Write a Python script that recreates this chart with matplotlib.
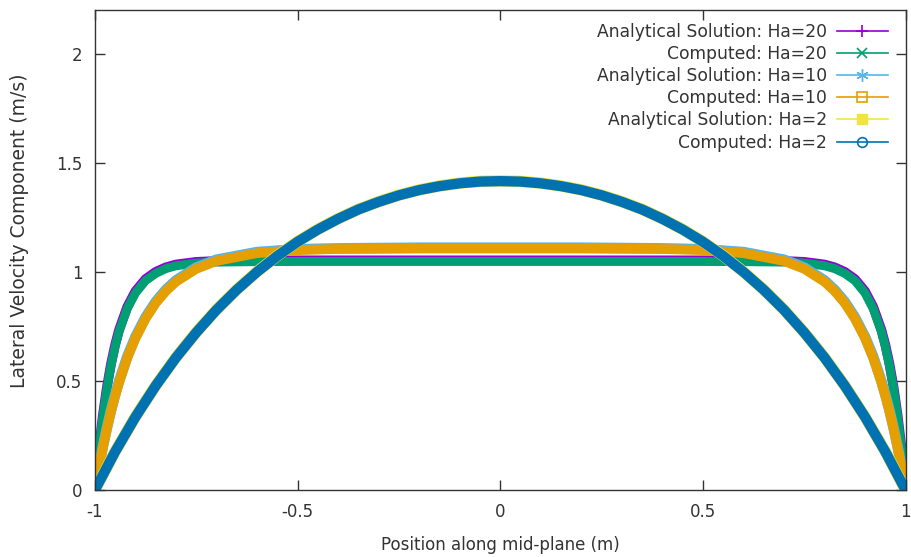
import matplotlib
matplotlib.use("Agg")
import matplotlib.pyplot as plt
from matplotlib.lines import Line2D

# Hartmann flow velocity profiles across the channel mid-plane
x_wall = [-1, -0.995, -0.99, -0.98, -0.97, -0.96, -0.95, -0.94, -0.92, -0.9, -0.875,
          -0.85, -0.825, -0.8, -0.75, -0.7, -0.6, -0.5, -0.4, -0.2, 0,
          0.2, 0.4, 0.5, 0.6, 0.7, 0.75, 0.8, 0.825, 0.85, 0.875,
          0.9, 0.92, 0.94, 0.95, 0.96, 0.97, 0.98, 0.99, 0.995, 1]

analytic_ha20 = [0, 0.100, 0.191, 0.347, 0.475, 0.580, 0.666, 0.736, 0.840, 0.911, 0.967,
                 1.000, 1.021, 1.034, 1.046, 1.050, 1.052, 1.053, 1.053, 1.053, 1.053,
                 1.053, 1.053, 1.053, 1.052, 1.050, 1.046, 1.034, 1.021, 1.000, 0.967,
                 0.911, 0.840, 0.736, 0.666, 0.580, 0.475, 0.347, 0.191, 0.100, 0]
computed_ha20 = [0, 0.095, 0.185, 0.340, 0.468, 0.572, 0.658, 0.728, 0.832, 0.903, 0.960,
                 0.993, 1.015, 1.028, 1.040, 1.045, 1.047, 1.048, 1.048, 1.048, 1.048,
                 1.048, 1.048, 1.048, 1.047, 1.045, 1.040, 1.028, 1.015, 0.993, 0.960,
                 0.903, 0.832, 0.728, 0.658, 0.572, 0.468, 0.340, 0.185, 0.095, 0]

analytic_ha10 = [0, 0.054, 0.106, 0.201, 0.288, 0.367, 0.437, 0.501, 0.612, 0.702, 0.792,
                 0.863, 0.918, 0.961, 1.020, 1.056, 1.091, 1.104, 1.108, 1.111, 1.111,
                 1.111, 1.108, 1.104, 1.091, 1.056, 1.020, 0.961, 0.918, 0.863, 0.792,
                 0.702, 0.612, 0.501, 0.437, 0.367, 0.288, 0.201, 0.106, 0.054, 0]
computed_ha10 = [0, 0.052, 0.103, 0.197, 0.283, 0.361, 0.431, 0.495, 0.606, 0.696, 0.786,
                 0.857, 0.912, 0.955, 1.014, 1.050, 1.086, 1.100, 1.105, 1.107, 1.107,
                 1.107, 1.105, 1.100, 1.086, 1.050, 1.014, 0.955, 0.912, 0.857, 0.786,
                 0.696, 0.606, 0.495, 0.431, 0.361, 0.283, 0.197, 0.103, 0.052, 0]

x_ha2 = [-1, -0.95, -0.9, -0.85, -0.8, -0.75, -0.7, -0.65, -0.6, -0.55, -0.5,
         -0.45, -0.4, -0.35, -0.3, -0.25, -0.2, -0.15, -0.1, -0.05, 0,
         0.05, 0.1, 0.15, 0.2, 0.25, 0.3, 0.35, 0.4, 0.45, 0.5,
         0.55, 0.6, 0.65, 0.7, 0.75, 0.8, 0.85, 0.9, 0.95, 1]
analytic_ha2 = [0, 0.177, 0.336, 0.479, 0.608, 0.723, 0.827, 0.919, 1.001, 1.074, 1.139,
                1.195, 1.244, 1.287, 1.322, 1.352, 1.376, 1.394, 1.407, 1.415, 1.417,
                1.415, 1.407, 1.394, 1.376, 1.352, 1.322, 1.287, 1.244, 1.195, 1.139,
                1.074, 1.001, 0.919, 0.827, 0.723, 0.608, 0.479, 0.336, 0.177, 0]
computed_ha2 = [0, 0.176, 0.335, 0.478, 0.607, 0.722, 0.826, 0.918, 1.000, 1.073, 1.138,
                1.194, 1.243, 1.286, 1.321, 1.351, 1.375, 1.393, 1.406, 1.414, 1.416,
                1.414, 1.406, 1.393, 1.375, 1.351, 1.321, 1.286, 1.243, 1.194, 1.138,
                1.073, 1.000, 0.918, 0.826, 0.722, 0.607, 0.478, 0.335, 0.176, 0]

PURPLE = "#9400d3"
GREEN = "#009e73"
SKY = "#56b4e9"
ORANGE = "#e69f00"
YELLOW = "#f0e442"
BLUE = "#0072b2"
INK = "#333333"

plt.rcParams["font.family"] = "DejaVu Sans"
fig = plt.figure(figsize=(9.12, 5.57), dpi=100)
ax = fig.add_axes([0.104, 0.12, 0.889, 0.862])

band = dict(solid_capstyle="round", solid_joinstyle="round")
ax.plot(x_wall, analytic_ha20, color=PURPLE, lw=7.0, **band)
ax.plot(x_wall, computed_ha20, color=GREEN, lw=6.4, **band)
ax.plot(x_wall, analytic_ha10, color=SKY, lw=7.6, **band)
ax.plot(x_wall, computed_ha10, color=ORANGE, lw=7.0, **band)
ax.plot(x_ha2, analytic_ha2, color=YELLOW, lw=8.2, **band)
ax.plot(x_ha2, computed_ha2, color=BLUE, lw=7.4, **band)

ax.set_xlim(-1, 1)
ax.set_ylim(0, 2.2)
ax.set_xticks([-1, -0.5, 0, 0.5, 1])
ax.set_xticklabels(["-1", "-0.5", "0", "0.5", "1"])
ax.set_yticks([0, 0.5, 1, 1.5, 2])
ax.set_yticklabels(["0", "0.5", "1", "1.5", "2"])
ax.tick_params(direction="in", length=7, width=1, top=True, right=True,
               labelsize=12, colors=INK, pad=9)
for s in ax.spines.values():
    s.set_color(INK)
    s.set_linewidth(1.0)

ax.set_xlabel("Position along mid-plane (m)", fontsize=12, color=INK, labelpad=11)
ax.set_ylabel("Lateral Velocity Component (m/s)", fontsize=13.5, color=INK)
ax.yaxis.set_label_coords(-0.081, 0.54)

handles = [
    Line2D([], [], color=PURPLE, lw=1.2, marker="+", markersize=9, markeredgewidth=1.2),
    Line2D([], [], color=GREEN, lw=1.2, marker="x", markersize=7, markeredgewidth=1.2),
    Line2D([], [], color=SKY, lw=1.2, marker=(6, 2, 0), markersize=9, markeredgewidth=1.0),
    Line2D([], [], color=ORANGE, lw=1.2, marker="s", markersize=7, markerfacecolor="none",
           markeredgewidth=1.2),
    Line2D([], [], color=YELLOW, lw=1.2, marker="s", markersize=7),
    Line2D([], [], color=BLUE, lw=1.2, marker="o", markersize=7, markerfacecolor="none",
           markeredgewidth=1.2),
]
labels = ["Analytical Solution: Ha=20", "Computed: Ha=20",
          "Analytical Solution: Ha=10", "Computed: Ha=10",
          "Analytical Solution: Ha=2", "Computed: Ha=2"]
leg = ax.legend(handles, labels, loc="upper right", frameon=False, markerfirst=False,
                fontsize=12.3, handlelength=3.0, handletextpad=0.55, labelspacing=0.24,
                borderaxespad=0.5, bbox_to_anchor=(0.997, 1.005))
for t in leg.get_texts():
    t.set_color(INK)

fig.savefig("out.png", dpi=100)
